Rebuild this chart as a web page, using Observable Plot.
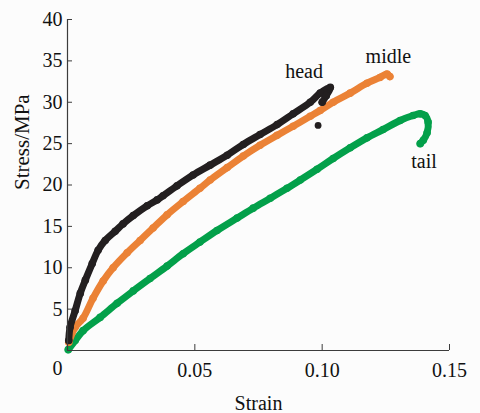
<!DOCTYPE html>
<html>
<head>
<meta charset="utf-8">
<script src="https://cdn.jsdelivr.net/npm/d3@7"></script>
<script src="https://cdn.jsdelivr.net/npm/@observablehq/plot@0.6"></script>
<style>
  html, body { margin: 0; padding: 0; background: #fcfcfc; }
  #chart svg { display: block; background: #fcfcfc; }
</style>
</head>
<body>
<div id="chart"></div>
<script>
// Data
const headStrain = [0.0005, 0.001, 0.003, 0.005, 0.007, 0.0097, 0.012, 0.0148, 0.0187, 0.0218, 0.0258, 0.0313, 0.0352, 0.0375, 0.043, 0.0493, 0.056, 0.0627, 0.069, 0.0756, 0.0823, 0.0886, 0.0953, 0.0992, 0.1032, 0.1016, 0.1000];
const headStress = [1.2, 2.8, 4.8, 6.9, 8.5, 10.5, 12.1, 13.3, 14.4, 15.3, 16.3, 17.5, 18.2, 18.7, 19.9, 21.2, 22.4, 23.6, 24.9, 26.1, 27.3, 28.6, 30.0, 31.1, 31.8, 30.8, 30.0];
const headOutStrain = [0.0984];
const headOutStress = [27.2];

const midleStrain = [0.0005, 0.003, 0.0061, 0.010, 0.014, 0.0179, 0.0234, 0.0285, 0.0336, 0.0391, 0.0454, 0.052, 0.056, 0.0627, 0.069, 0.0756, 0.0823, 0.0886, 0.0953, 0.0992, 0.1043, 0.111, 0.1176, 0.1227, 0.1255, 0.1266];
const midleStress = [1.0, 2.8, 3.9, 6.3, 8.4, 10.0, 11.8, 13.3, 14.8, 16.4, 18.0, 19.6, 20.6, 22.1, 23.5, 24.8, 26.0, 27.1, 28.3, 29.0, 30.0, 31.1, 32.3, 33.0, 33.4, 33.1];

const tailStrain = [0.0003, 0.003, 0.0061, 0.0128, 0.0195, 0.0258, 0.0324, 0.0391, 0.0454, 0.052, 0.0587, 0.0666, 0.0729, 0.0796, 0.0862, 0.0914, 0.098, 0.1043, 0.111, 0.1176, 0.1239, 0.1306, 0.1357, 0.1385, 0.1404, 0.1416, 0.1412, 0.1397, 0.1385];
const tailStress = [0.1, 1.2, 2.4, 4.0, 5.7, 7.2, 8.7, 10.2, 11.7, 13.1, 14.5, 16.0, 17.2, 18.4, 19.6, 20.6, 21.9, 23.2, 24.5, 25.7, 26.7, 27.8, 28.4, 28.6, 28.4, 27.6, 26.3, 25.4, 25.0];

const seriesNames = ["head", "midle", "tail"];
const labelStrain = [0.0929, 0.126, 0.140];
const labelStress = [32.9, 34.8, 22.0];

const xTicks = [0.05, 0.10, 0.15];
const xTickLabels = ["0.05", "0.10", "0.15"];
const yTicks = [5, 10, 15, 20, 25, 30, 35, 40];

const colors = {head: "#231f20", midle: "#eb8236", tail: "#03a04a"};

const rows = (name, xs, ys) => xs.map((x, i) => ({series: name, x, y: ys[i]}));
const series = [
  rows("tail", tailStrain, tailStress),
  rows("midle", midleStrain, midleStress),
  rows("head", headStrain, headStress)
];
const outliers = rows("head", headOutStrain, headOutStress);
const labels = seriesNames.map((s, i) => ({text: s, x: labelStrain[i], y: labelStress[i]}));

const font = "Liberation Serif, Times New Roman, serif";
const axisColor = "#3c3c3c";

const marks = [];
for (const s of series) {
  const c = colors[s[0].series];
  marks.push(Plot.line(s, {x: "x", y: "y", stroke: c, strokeWidth: 7, strokeLinejoin: "round", strokeLinecap: "round", curve: "catmull-rom"}));
  marks.push(Plot.dot(s, {x: "x", y: "y", r: 3.8, fill: c, stroke: "none"}));
}
marks.push(Plot.dot(outliers, {x: "x", y: "y", r: 3.4, fill: colors.head, stroke: "none"}));
marks.push(Plot.text(labels, {x: "x", y: "y", text: "text", textAnchor: "middle", lineAnchor: "bottom", fontSize: 20, fill: "#111"}));

// axes
marks.push(Plot.ruleX([0], {stroke: axisColor, strokeWidth: 1.2}));
marks.push(Plot.ruleY([0], {stroke: axisColor, strokeWidth: 1.2}));
marks.push(Plot.axisY({ticks: yTicks, tickSize: -5, tickPadding: 10, stroke: axisColor, fontSize: 20, fill: "#111", label: null}));
marks.push(Plot.axisX({ticks: xTicks, tickFormat: (d) => xTickLabels[xTicks.indexOf(d)], tickSize: -6, tickPadding: 18, stroke: axisColor, fontSize: 20, fill: "#111", label: null}));
marks.push(Plot.text(["0"], {x: () => 0, y: () => 0, dx: -10, dy: 18, textAnchor: "middle", lineAnchor: "middle", fontSize: 20, fill: "#111"}));
marks.push(Plot.text(["Strain"], {frameAnchor: "bottom", dy: 53, lineAnchor: "middle", fontSize: 20, fill: "#111"}));
marks.push(Plot.text(["Stress/MPa"], {frameAnchor: "left", dx: -45, dy: 5, rotate: -90, lineAnchor: "middle", fontSize: 21, fill: "#111"}));

const chart = Plot.plot({
  width: 480,
  height: 413,
  marginLeft: 67,
  marginRight: 31,
  marginTop: 19,
  marginBottom: 63,
  style: {fontFamily: font, background: "#fcfcfc"},
  x: {domain: [0, 0.15]},
  y: {domain: [0, 40]},
  marks
});
document.getElementById("chart").appendChild(chart);
</script>
</body>
</html>
